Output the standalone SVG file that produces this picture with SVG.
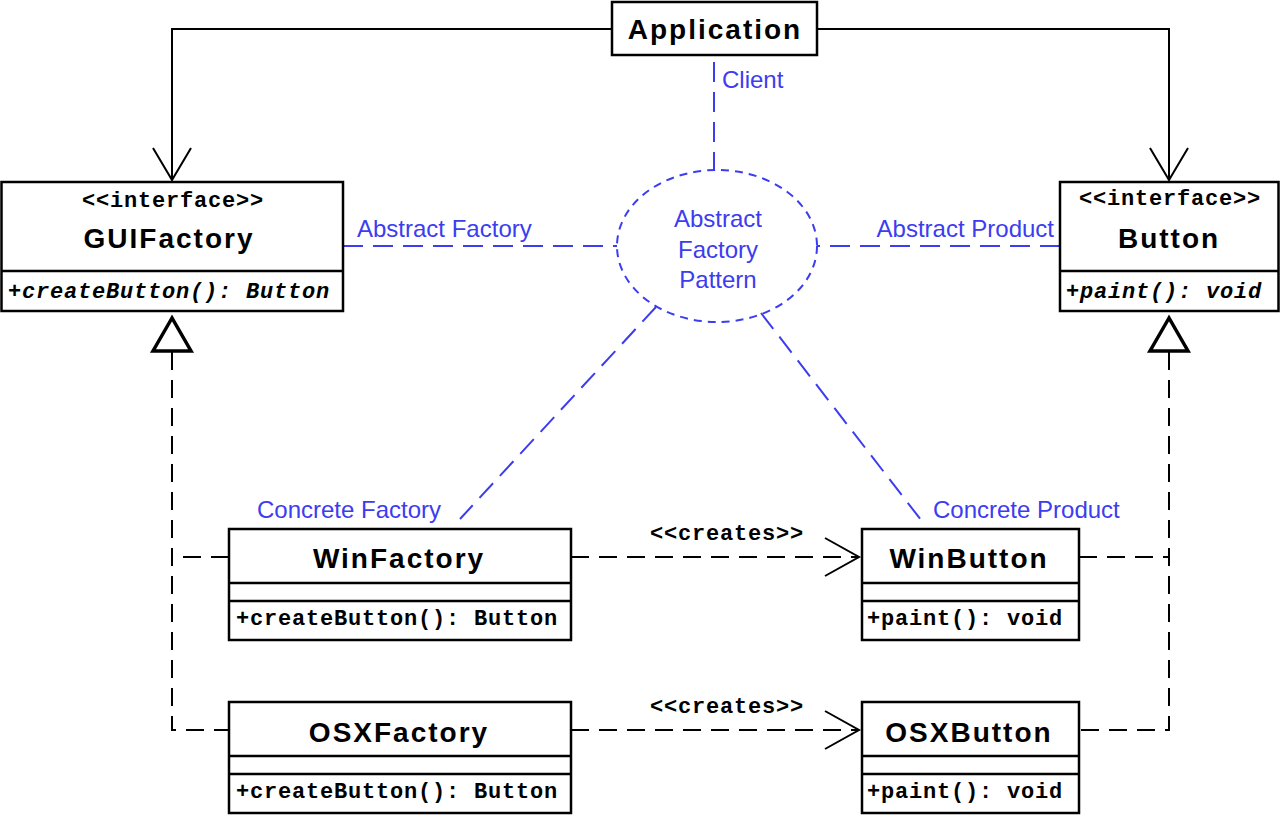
<svg xmlns="http://www.w3.org/2000/svg" width="1280" height="815" viewBox="0 0 1280 815">
<style>
.box{fill:#fff;stroke:#000;stroke-width:2.5}
.div{stroke:#000;stroke-width:2.5;fill:none}
.name{font-family:"Liberation Sans",Arial,sans-serif;font-weight:bold;font-size:28px;letter-spacing:2px;text-anchor:middle;fill:#000}
.mono{font-family:"Liberation Mono","Courier New",monospace;font-weight:bold;font-size:22px;letter-spacing:0.8px;fill:#000}
.it{font-style:italic}
.mid{text-anchor:middle}
.blue{font-family:"Liberation Sans",Arial,sans-serif;font-size:24px;fill:#3c3cf0}
.assoc{fill:none;stroke:#000;stroke-width:2}
.dash{fill:none;stroke:#000;stroke-width:2;stroke-dasharray:18,10}
.bdash{fill:none;stroke:#3c3cf0;stroke-width:2;stroke-dasharray:20,10}
.tri{fill:#fff;stroke:#000;stroke-width:3.5}
</style>
<rect width="1280" height="815" fill="#fff"/>
<g id="connectors">
  <path class="assoc" d="M612,29 H172 V180"/>
  <path class="assoc" d="M153,148 L172,180 L191,148"/>
  <path class="assoc" d="M817,29 H1169 V180"/>
  <path class="assoc" d="M1150,148 L1169,180 L1188,148"/>
  <path class="dash" d="M172,352 V730 H229"/>
  <path class="dash" d="M229,557 H172"/>
  <path class="dash" d="M1169,352 V730 H1079"/>
  <path class="dash" d="M1079,557 H1169"/>
  <polygon class="tri" points="172,318 153,351 191,351"/>
  <polygon class="tri" points="1169,318 1150,351 1188,351"/>
  <path class="dash" d="M571,557 H858"/>
  <path class="assoc" d="M825,538 L859,557 L825,576"/>
  <text class="mono mid" x="727" y="540">&lt;&lt;creates&gt;&gt;</text>
  <path class="dash" d="M571,730 H858"/>
  <path class="assoc" d="M825,711 L859,730 L825,749"/>
  <text class="mono mid" x="727" y="713">&lt;&lt;creates&gt;&gt;</text>
</g>
<g id="pattern">
  <path class="bdash" d="M714,62 V170"/>
  <path class="bdash" d="M343,246 H617"/>
  <path class="bdash" d="M1060,246 H817"/>
  <path class="bdash" d="M656,307 L460,519"/>
  <path class="bdash" d="M761,313 L921,520"/>
  <ellipse cx="717" cy="246" rx="100" ry="76" fill="none" stroke="#3c3cf0" stroke-width="2" stroke-dasharray="8,6"/>
  <text class="blue mid" x="718" y="227">Abstract</text>
  <text class="blue mid" x="718" y="258">Factory</text>
  <text class="blue mid" x="718" y="288">Pattern</text>
  <text class="blue" x="722" y="88">Client</text>
  <text class="blue" x="357" y="237">Abstract Factory</text>
  <text class="blue" x="1054" y="237" text-anchor="end">Abstract Product</text>
  <text class="blue" x="257" y="518">Concrete Factory</text>
  <text class="blue" x="933" y="518">Concrete Product</text>
</g>
<g id="application">
  <rect class="box" x="612" y="2" width="205" height="53"/>
  <text class="name" x="715" y="39">Application</text>
</g>
<g id="guifactory">
  <rect class="box" x="1.5" y="182" width="341.5" height="129"/>
  <line class="div" x1="1.5" y1="271" x2="343" y2="271"/>
  <text class="mono mid" x="173" y="207">&lt;&lt;interface&gt;&gt;</text>
  <text class="name" x="169" y="248">GUIFactory</text>
  <text class="mono it" x="8" y="298">+createButton(): Button</text>
</g>
<g id="button">
  <rect class="box" x="1060" y="182" width="218.5" height="129"/>
  <line class="div" x1="1060" y1="271" x2="1278.5" y2="271"/>
  <text class="mono mid" x="1170" y="205">&lt;&lt;interface&gt;&gt;</text>
  <text class="name" x="1169" y="248">Button</text>
  <text class="mono it" x="1066" y="298">+paint(): void</text>
</g>
<g id="winfactory">
  <rect class="box" x="229" y="529" width="342" height="111"/>
  <line class="div" x1="229" y1="583" x2="571" y2="583"/>
  <line class="div" x1="229" y1="601" x2="571" y2="601"/>
  <text class="name" x="399" y="568">WinFactory</text>
  <text class="mono" x="236" y="625">+createButton(): Button</text>
</g>
<g id="osxfactory">
  <rect class="box" x="229" y="702" width="342" height="111"/>
  <line class="div" x1="229" y1="756" x2="571" y2="756"/>
  <line class="div" x1="229" y1="774" x2="571" y2="774"/>
  <text class="name" x="399" y="742">OSXFactory</text>
  <text class="mono" x="236" y="798">+createButton(): Button</text>
</g>
<g id="winbutton">
  <rect class="box" x="862" y="529" width="217" height="111"/>
  <line class="div" x1="862" y1="583" x2="1079" y2="583"/>
  <line class="div" x1="862" y1="601" x2="1079" y2="601"/>
  <text class="name" x="969" y="568">WinButton</text>
  <text class="mono" x="867" y="625">+paint(): void</text>
</g>
<g id="osxbutton">
  <rect class="box" x="862" y="702" width="217" height="111"/>
  <line class="div" x1="862" y1="756" x2="1079" y2="756"/>
  <line class="div" x1="862" y1="774" x2="1079" y2="774"/>
  <text class="name" x="969" y="742">OSXButton</text>
  <text class="mono" x="867" y="798">+paint(): void</text>
</g>
</svg>
